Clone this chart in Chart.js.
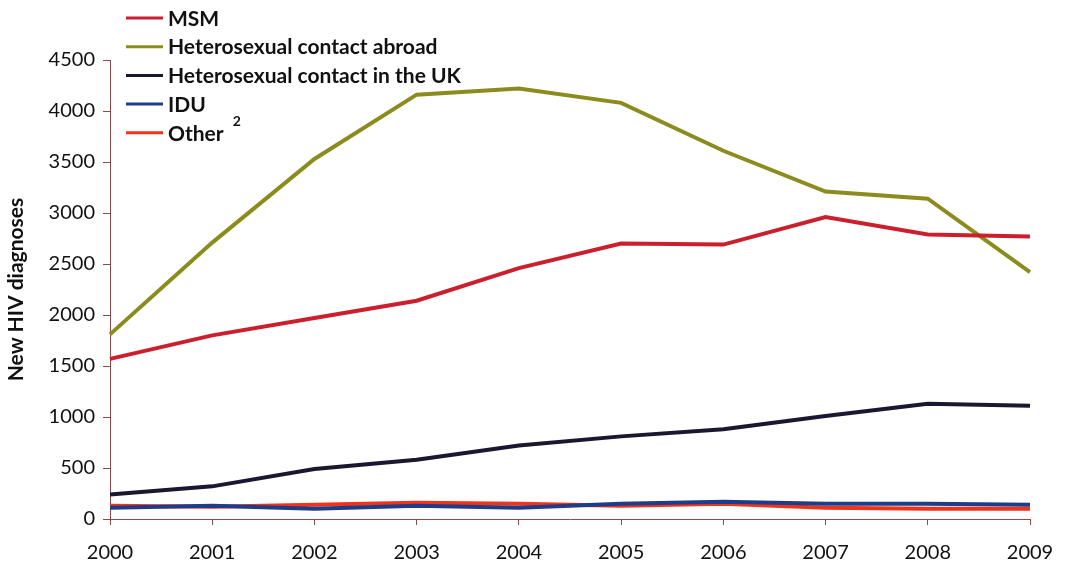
<!DOCTYPE html>
<html>
<head>
<meta charset="utf-8">
<script src="https://cdn.jsdelivr.net/npm/chart.js@4/dist/chart.umd.min.js"></script>
<style>
	html, body { margin: 0; padding: 0; background: #ffffff; }
	#wrap { width: 1070px; height: 573px; }
</style>
</head>
<body>
<div id="wrap"><canvas id="hivChart" width="1070" height="573"></canvas></div>
<script>
// New HIV diagnoses by exposure route, 2000-2009
const years = ['2000', '2001', '2002', '2003', '2004', '2005', '2006', '2007', '2008', '2009'];
const msm = [1570, 1800, 1970, 2140, 2460, 2700, 2690, 2960, 2790, 2770];
const heteroAbroad = [1810, 2710, 3530, 4160, 4220, 4080, 3610, 3210, 3140, 2420];
const heteroUK = [240, 320, 490, 580, 720, 810, 880, 1010, 1130, 1110];
const idu = [110, 130, 100, 130, 110, 150, 170, 150, 150, 140];
const other = [130, 120, 140, 160, 150, 130, 150, 110, 100, 100];
const yTicks = [0, 500, 1000, 1500, 2000, 2500, 3000, 3500, 4000, 4500];

const fontFamily = 'Lato, "Open Sans", sans-serif';
const axisColor = '#8e4a4a';
const textColor = '#111111';

// legend drawn as a vertical list in the top-left corner, lines first
const listLegend = {
	id: 'listLegend',
	afterDraw(chart) {
		const ctx = chart.ctx;
		ctx.save();
		ctx.font = 'bold 21px ' + fontFamily;
		ctx.textBaseline = 'middle';
		chart.data.datasets.forEach((ds, i) => {
			const y = 18 + i * 28.7;
			ctx.strokeStyle = ds.borderColor;
			ctx.lineWidth = 3;
			ctx.beginPath();
			ctx.moveTo(126, y);
			ctx.lineTo(163, y);
			ctx.stroke();
			ctx.fillStyle = textColor;
			ctx.textAlign = 'left';
			ctx.fillText(ds.label, 168, y + 1);
			if (ds.note) {
				const w = ctx.measureText(ds.label).width;
				ctx.font = 'bold 14px ' + fontFamily;
				ctx.fillText(ds.note, 168 + w + 9, y - 11);
				ctx.font = 'bold 21px ' + fontFamily;
			}
		});
		ctx.restore();
	}
};

function series(label, data, color) {
	return {
		label: label,
		data: data,
		borderColor: color,
		backgroundColor: color,
		borderWidth: 4,
		pointRadius: 0,
		tension: 0,
		fill: false
	};
}

const datasets = [
	series('MSM', msm, '#cc1f2e'),
	series('Heterosexual contact abroad', heteroAbroad, '#8c8c1e'),
	series('Heterosexual contact in the UK', heteroUK, '#1c1630'),
	series('IDU', idu, '#1f3c88'),
	Object.assign(series('Other', other, '#f0341c'), { note: '2' })
];

new Chart(document.getElementById('hivChart'), {
	type: 'line',
	data: { labels: years, datasets: datasets },
	plugins: [listLegend],
	options: {
		responsive: false,
		animation: false,
		layout: { padding: { top: 60, right: 40, left: 4, bottom: 0 } },
		plugins: {
			legend: { display: false },
			tooltip: { enabled: false }
		},
		scales: {
			x: {
				offset: false,
				grid: { drawOnChartArea: false, drawTicks: true, tickLength: 6, color: axisColor },
				border: { color: axisColor, width: 1 },
				ticks: {
					color: textColor,
					font: { family: fontFamily, size: 20 },
					padding: 16,
					maxRotation: 0,
					autoSkip: false
				},
				afterFit: scale => { scale.height = 54; }
			},
			y: {
				min: 0,
				max: 4500,
				afterBuildTicks: scale => { scale.ticks = yTicks.map(v => ({ value: v })); },
				grid: { drawOnChartArea: false, drawTicks: true, tickLength: 7, color: axisColor },
				border: { color: axisColor, width: 1 },
				ticks: {
					color: textColor,
					font: { family: fontFamily, size: 20 },
					padding: 8,
					callback: v => String(v)
				},
				title: {
					display: true,
					text: 'New HIV diagnoses',
					color: textColor,
					font: { family: fontFamily, size: 21, weight: 'bold' },
					padding: { top: 0, bottom: 4 }
				},
				afterFit: scale => { scale.width = 106; }
			}
		}
	}
});
</script>
</body>
</html>
